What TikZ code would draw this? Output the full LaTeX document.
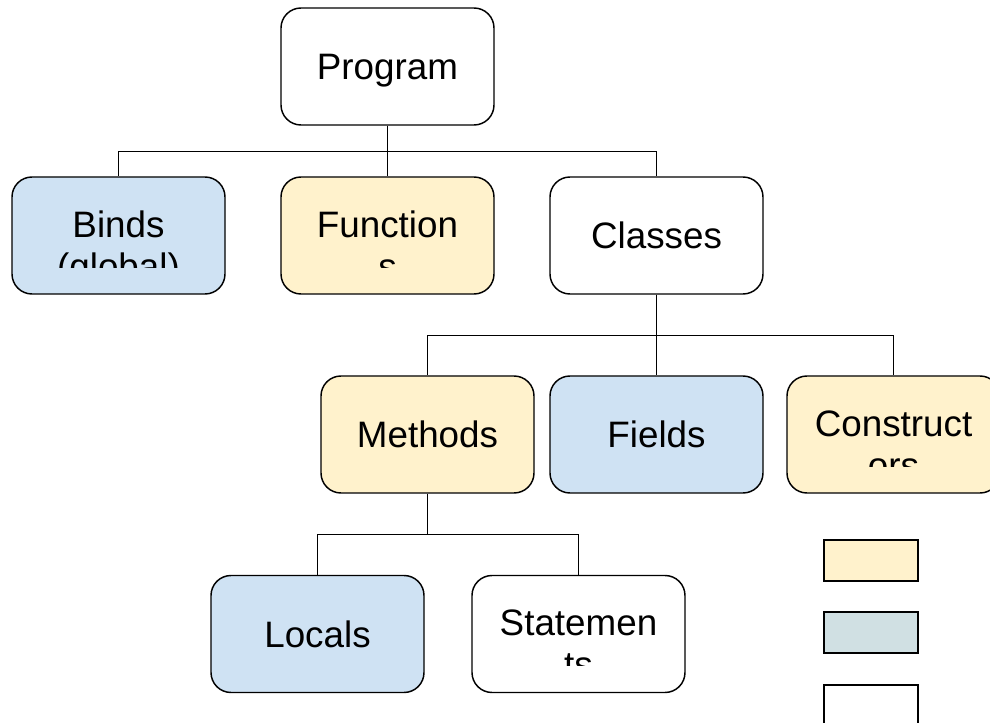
\documentclass[tikz,border=0pt]{standalone}
\usepackage{fontspec}
\setmainfont{Liberation Sans}
\usepackage{tikz}
\usetikzlibrary{positioning, calc}
\definecolor{bindblue}{HTML}{CFE2F3}
\definecolor{funcyellow}{HTML}{FFF2CC}
\definecolor{keygray}{HTML}{D0E0E3}

\begin{document}
\begin{tikzpicture}[x=0.75pt, y=-0.75pt,
	box/.style={draw, line width=1.1pt, rounded corners=15pt, minimum width=159.75pt, minimum height=87.75pt, text height=20.2pt, text depth=0pt, font=\fontsize{27.6}{33}\selectfont},
	keybox/.style={draw, line width=1.4pt, minimum width=70.5pt, minimum height=30.75pt, inner sep=0pt},
	link/.style={line width=1.1pt}]

\useasboundingbox (0,0) rectangle (990,723);
\clip (0,0) rectangle (990,723);

% two-line labels that are cut off at the bottom of the box
\newcommand{\cutlabel}[3]{%
	\begin{scope}
		\clip ([xshift=2pt]#1.north west) rectangle ([xshift=-2pt, yshift=-68.25pt]#1.north east);
		\node[anchor=base, font=\fontsize{27.6}{33}\selectfont] at ([yshift=-45.75pt]#1.north) {#2};
		\node[anchor=base, font=\fontsize{27.6}{33}\selectfont] at ([yshift=-77.25pt]#1.north) {#3};
	\end{scope}}

\node[box] (program) at (387.5, 66.5) {Program};

\node[box, fill=bindblue]   (binds)     at (118.5, 235.5) {};
\node[box, fill=funcyellow] (functions) at (387.5, 235.5) {};
\node[box]                  (classes)   at (656.5, 235.5) {Classes};

\node[box, fill=funcyellow] (methods)  at (427.5, 434.5) {Methods};
\node[box, fill=bindblue]   (fields)   at (656.5, 434.5) {Fields};
\node[box, fill=funcyellow] (ctors)    at (893.5, 434.5) {};

\node[box, fill=bindblue] (locals)     at (317.5, 634) {Locals};
\node[box]                (statements) at (578.5, 634) {};

\cutlabel{binds}{Binds}{(global)}
\cutlabel{functions}{Function}{s}
\cutlabel{ctors}{Construct}{ors}
\cutlabel{statements}{Statemen}{ts}

% tree lines
\draw[link] (program.south) -- ++(0,26) -| (binds.north);
\draw[link] (program.south) -- (functions.north);
\draw[link] (program.south) -- ++(0,26) -| (classes.north);

\draw[link] (classes.south) -- ++(0,41) -| (methods.north);
\draw[link] (classes.south) -- (fields.north);
\draw[link] (classes.south) -- ++(0,41) -| (ctors.north);

\draw[link] (methods.south) -- ++(0,41) -| (locals.north);
\draw[link] (methods.south) -- ++(0,41) -| (statements.north);

% key
\node[keybox, fill=funcyellow] (keyfunc)  at (871, 560.5) {};
\node[keybox, fill=keygray]    (keybind)  at (871, 632.5) {};
\node[keybox, fill=white]      (keyplain) at (871, 705.5) {};

\end{tikzpicture}
\end{document}
